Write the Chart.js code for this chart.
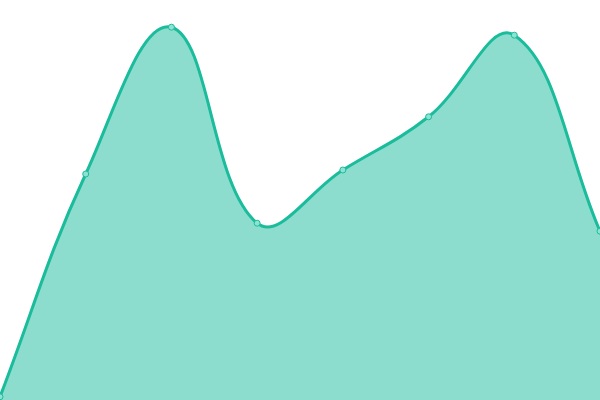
<!DOCTYPE html>
<html>
<head>
<meta charset="utf-8">
<script src="https://cdn.jsdelivr.net/npm/chart.js@4"></script>
<style>
  html, body { margin: 0; padding: 0; background: #fff; }
  #wrap { width: 600px; height: 400px; }
</style>
</head>
<body>
<div id="wrap"><canvas id="area"></canvas></div>
<script>
// Data
const labels = ["A", "B", "C", "D", "E", "F", "G", "H"];
const values = [0.8, 56.5, 93.2, 44.2, 57.5, 70.8, 91.2, 42.2];

const ctx = document.getElementById("area");

new Chart(ctx, {
  type: "line",
  data: {
    labels: labels,
    datasets: [
      {
        data: values,
        fill: true,
        tension: 0.4,
        borderColor: "#1abc9c",
        backgroundColor: "rgba(26, 188, 156, 0.5)",
        borderWidth: 3,
        pointRadius: 3,
        pointBackgroundColor: "#8ee2d2",
        pointBorderColor: "#1abc9c",
        pointBorderWidth: 1,
      },
    ],
  },
  options: {
    responsive: true,
    maintainAspectRatio: false,
    animation: false,
    layout: { padding: 0, autoPadding: false },
    plugins: {
      legend: { display: false },
      tooltip: { enabled: false },
    },
    scales: {
      x: { display: false },
      y: { display: false, min: 0, max: 100 },
    },
  },
});
</script>
</body>
</html>
